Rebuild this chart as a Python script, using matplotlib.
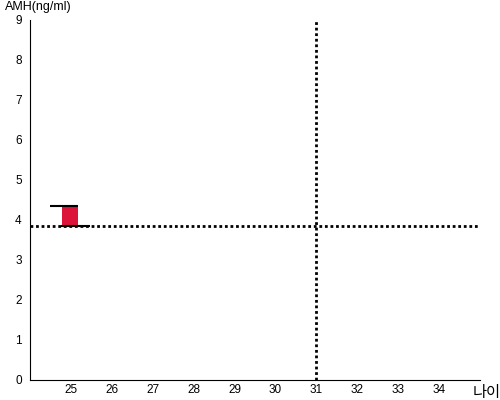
import numpy as np
import matplotlib.pyplot as plt

plt.rcParams['font.family'] = ['Liberation Sans', 'Noto Sans CJK KR', 'DejaVu Sans']

# data
ages = [25]
amh_low = [3.84]
amh_high = [4.35]
ref_amh = 3.84
ref_age = 31
x_ticks = list(range(25, 35))
y_ticks = list(range(0, 10))

fig = plt.figure(figsize=(5, 4), dpi=100)
ax = fig.add_axes([0.06, 0.05, 0.90, 0.90])

w = 0.4
for a, lo, hi in zip(ages, amh_low, amh_high):
    ax.bar(a - 0.02, hi - lo, bottom=lo, width=w, color='#DC143C', zorder=2)
    ax.hlines(hi, a - 0.52, a + 0.18, color='black', linewidth=1.5, zorder=3)
    ax.hlines(lo, a - 0.24, a + 0.47, color='black', linewidth=1.5, zorder=3)

ax.axhline(ref_amh, color='black', linestyle=(0, (1, 1)), linewidth=2, zorder=1)
ax.axvline(ref_age, color='black', linestyle=(0, (1, 1)), linewidth=2, zorder=1)

ax.set_xlim(24, 35)
ax.set_ylim(0, 9)
ax.set_xticks(x_ticks)
ax.set_yticks(y_ticks)
ax.tick_params(axis='x', length=0, labelsize=8.5, pad=3)
ax.tick_params(axis='y', length=0, labelsize=8.5, pad=6)
for s in ['top', 'right']:
    ax.spines[s].set_visible(False)

fig.text(0.01, 0.997, 'AMH(ng/ml)', fontsize=9, va='top', ha='left')
fig.text(0.945, 0.018, '나이', fontsize=11, va='center', ha='left')

fig.savefig('out.png', dpi=100)
